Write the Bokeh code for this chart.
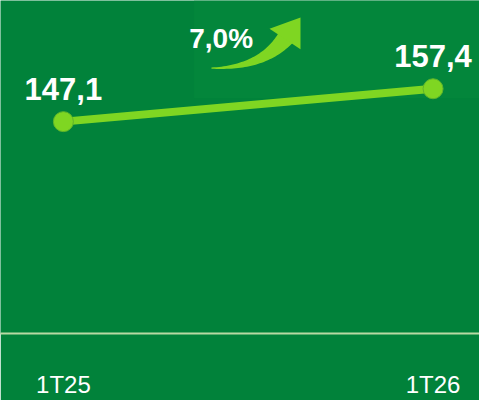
import numpy as np
from bokeh.plotting import figure
from bokeh.models import Range1d, FixedTicker, ColumnDataSource
from bokeh.core.properties import value
from bokeh.embed import file_html
from bokeh.resources import INLINE

# ---- data ----
categories = ["1T25", "1T26"]
values = [147.1, 157.4]
value_labels = ["147,1", "157,4"]

BG = "#01823a"
BG_LIGHT = "#03863b"
LINE = "#7fd622"

W, H = 479, 400
SX, SY = W / 495, H / 416          # reference px -> canvas px
FRAME_H = round(355 * SY)
# pixel layout targets (reference px)
X0_PX, X1_PX = 65 * SX, 447 * SX
Y0_PX, Y1_PX = 129 * SY, 94 * SY

xs = list(range(len(categories)))
ppx = (X1_PX - X0_PX) / (xs[1] - xs[0])
x_start = xs[0] - X0_PX / ppx
x_end = x_start + W / ppx
ppy = (Y0_PX - Y1_PX) / (values[1] - values[0])
y_top = values[1] + Y1_PX / ppy
y_bot = y_top - FRAME_H / ppy

def dx(rx):
    return x_start + np.asarray(rx) * SX / ppx

def dy(ry):
    return y_top - np.asarray(ry) * SY / ppy

p = figure(width=W, height=H, output_backend="svg", toolbar_location=None,
           x_range=Range1d(x_start, x_end), y_range=Range1d(y_bot, y_top),
           min_border_left=0, min_border_right=0, min_border_top=0,
           min_border_bottom=H - FRAME_H)
p.background_fill_color = BG
p.border_fill_color = BG
p.outline_line_color = None
p.grid.visible = False
p.yaxis.visible = False

# subtle lighter panel behind the growth badge
p.quad(left=dx(200), right=dx(495), top=dy(0), bottom=dy(104),
       fill_color=BG_LIGHT, line_color=None)

ax = p.xaxis[0]
ax.ticker = FixedTicker(ticks=xs)
ax.major_label_overrides = {i: c for i, c in zip(xs, categories)}
ax.axis_line_color = "#b9d9a3"
ax.axis_line_width = 2
ax.major_tick_line_color = None
ax.minor_tick_line_color = None
ax.major_label_standoff = 31
ax.major_label_text_color = "white"
ax.major_label_text_font = "Liberation Sans"
ax.major_label_text_font_size = "24px"

src = ColumnDataSource(dict(x=xs, y=values, lab=value_labels))
p.line("x", "y", source=src, line_color=LINE, line_width=8)
p.scatter("x", "y", source=src, size=20, fill_color=LINE, line_color="#5fb52a", line_width=1)
p.text("x", "y", text="lab", source=src, y_offset=-33,
       text_align="center", text_baseline="alphabetic", text_color="white",
       text_font=value("Liberation Sans"), text_font_style="bold", text_font_size="31px")

# growth label
growth = (values[1] / values[0] - 1) * 100
growth_txt = f"{growth:.1f}".replace(".", ",") + "%"
p.text(x=[dx(228)], y=[dy(41)], text=[growth_txt], text_align="center",
       text_baseline="alphabetic", text_color="white",
       text_font=value("Liberation Sans"), text_font_style="bold", text_font_size="28px")

# curved arrow (reference px)
P0 = np.array([218.0, 72.0]); C = np.array([270.0, 72.0]); P2 = np.array([294.5, 40.0])
t = np.linspace(0, 1, 40)
pts = ((1 - t) ** 2)[:, None] * P0 + (2 * (1 - t) * t)[:, None] * C + (t ** 2)[:, None] * P2
der = (2 * (1 - t))[:, None] * (C - P0) + (2 * t)[:, None] * (P2 - C)
nrm = np.stack([-der[:, 1], der[:, 0]], axis=1)
nrm /= np.linalg.norm(nrm, axis=1)[:, None]
wid = 0.7 + 8.3 * t ** 1.2
upper = pts + nrm * wid[:, None]
lower = pts - nrm * wid[:, None]
shaft = np.vstack([upper, lower[::-1]])
p.patch(dx(shaft[:, 0]), dy(shaft[:, 1]), fill_color=LINE, line_color=None)
head = np.array([[278.0, 30.0], [310.0, 18.0], [310.0, 52.0]])
p.patch(dx(head[:, 0]), dy(head[:, 1]), fill_color=LINE, line_color=None)

open("out.html", "w").write(file_html(p, INLINE))
